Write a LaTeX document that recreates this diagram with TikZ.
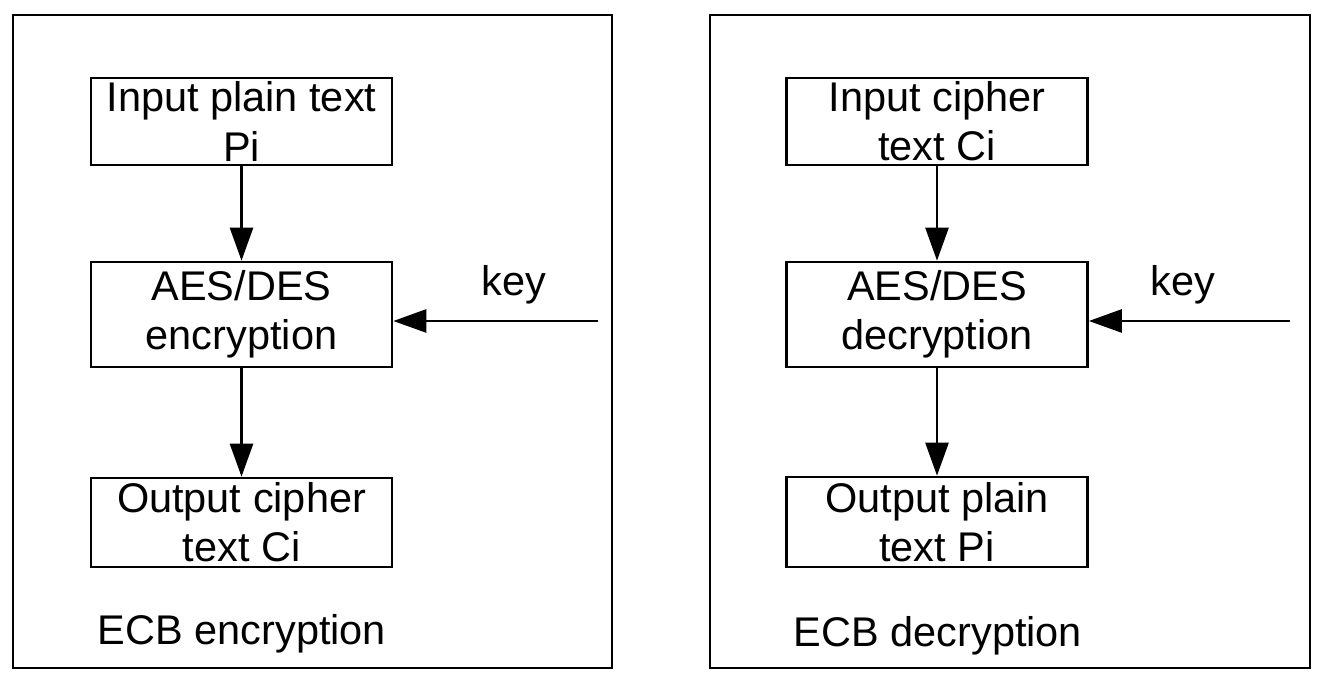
\documentclass[tikz,border=0pt]{standalone}
\usepackage{fontspec}
\setmainfont{Liberation Sans}
\usetikzlibrary{positioning,arrows.meta}
\definecolor{ecbblack}{RGB}{0,0,0}

\begin{document}
\begin{tikzpicture}[
    every node/.style={font=\fontsize{23.6}{28}\selectfont},
    stagebox/.style={draw=ecbblack,line width=1.5pt,minimum width=6.02cm,align=center,inner sep=0pt},
    frame/.style={draw=ecbblack,line width=1.5pt},
    flow/.style={line width=1.5pt,-{Triangle[length=0.66cm,width=0.46cm]}}
  ]
  \useasboundingbox (0,0) rectangle (26.54,13.72);
  % encryption side
  \draw[frame] (0.26,0.36) rectangle (12.24,13.42);
  \node[stagebox,minimum height=1.74cm] (encin) at (4.83,11.29) {Input plain text\\Pi};
  \node[stagebox,minimum height=2.1cm] (enc) at (4.83,7.43) {AES/DES\\encryption};
  \node[stagebox,minimum height=1.78cm] (encout) at (4.83,3.27) {Output cipher\\text Ci};
  \coordinate (enckey) at (11.96,7.30);
  \node (enckeylab) at (10.28,8.02) {key};
  \node (enctitle) at (4.84,1.04) {ECB encryption};
  \draw[flow] (encin) -- (enc);
  \draw[flow] (enc) -- (encout);
  \draw[flow] (enckey) -- (enckey -| enc.east);
  % decryption side
  \draw[frame] (14.20,0.36) rectangle (26.20,13.42);
  \node[stagebox,minimum height=1.74cm] (decin) at (18.74,11.29) {Input cipher\\text Ci};
  \node[stagebox,minimum height=2.1cm] (dec) at (18.74,7.43) {AES/DES\\decryption};
  \node[stagebox,minimum height=1.8cm] (decout) at (18.74,3.28) {Output plain\\text Pi};
  \coordinate (deckey) at (25.80,7.30);
  \node (deckeylab) at (23.66,8.02) {key};
  \node (dectitle) at (18.76,1.00) {ECB decryption};
  \draw[flow] (decin) -- (dec);
  \draw[flow] (dec) -- (decout);
  \draw[flow] (deckey) -- (deckey -| dec.east);
\end{tikzpicture}
\end{document}
